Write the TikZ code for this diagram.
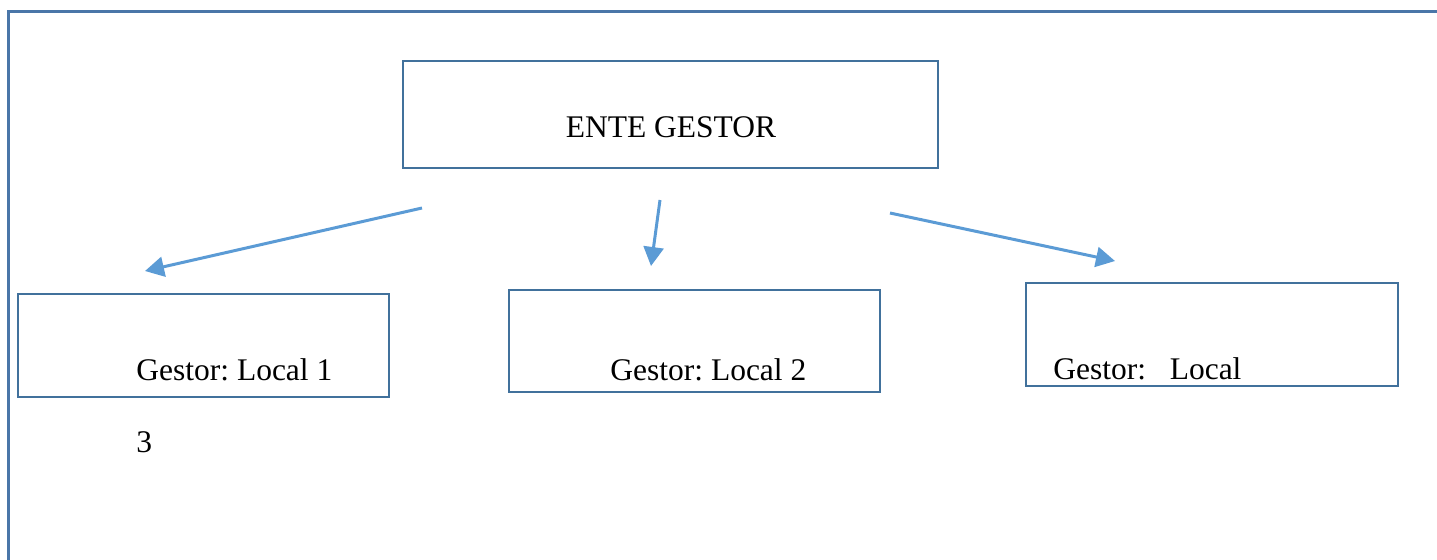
\documentclass[tikz,border=0pt]{standalone}
\usepackage{fontspec}
\setmainfont{Liberation Serif}
\usepackage{xcolor}
\usetikzlibrary{arrows.meta}
\frenchspacing
\definecolor{frameblue}{HTML}{4A76A8}
\definecolor{edgeblue}{HTML}{41719C}
\definecolor{arrowblue}{HTML}{5B9BD5}
\colorlet{box edge}{edgeblue}
\colorlet{arrow line}{arrowblue}
\tikzset{boxed/.style={draw=box edge, line width=1pt, inner sep=0pt},
    boxtext/.style={anchor=base west, inner sep=0pt, font=\fontsize{15.75}{18}\selectfont},
    pointer/.style={draw=arrow line, line width=1.5pt,
        -{Triangle[length=9.5pt, width=10pt]}}}

\begin{document}
\begin{tikzpicture}[x=0.5pt, y=-0.5pt]
    \useasboundingbox (0,0) rectangle (1437,559);
    \draw[frameblue, line width=1.5pt] (8,570) -- (8,11) -- (1450,11);
    % boxes
    \node[boxed, minimum width=267.5pt, minimum height=53.5pt] (ente)  at (670.5,114.5) {};
    \node[boxed, minimum width=185.5pt, minimum height=51.5pt] (local1) at (203.5,345.5) {};
    \node[boxed, minimum width=185.5pt, minimum height=51pt]   (local2) at (694.5,341) {};
    \node[boxed, minimum width=186pt,   minimum height=51.5pt] (local3) at (1212,334.5) {};
    % texts
    \node[anchor=base, inner sep=0pt, font=\fontsize{15.75}{18}\selectfont] (entetext) at (671,137) {ENTE GESTOR};
    \node[boxtext] (text1) at (136,380) {Gestor: Local 1};
    \node[boxtext] (text2) at (610,380) {Gestor: Local 2};
    \node[boxtext] (text3) at (1053,379) {Gestor:~~~Local};
    \node[boxtext] (num)   at (136,452) {3};
    % arrows
    \coordinate (from1) at (422,208);
    \coordinate (to1)   at (145,271);
    \coordinate (from2) at (660,200);
    \coordinate (to2)   at (651,266);
    \coordinate (from3) at (890,213);
    \coordinate (to3)   at (1115,261);
    \draw[pointer] (from1) -- (to1);
    \draw[pointer] (from2) -- (to2);
    \draw[pointer] (from3) -- (to3);
\end{tikzpicture}
\end{document}
